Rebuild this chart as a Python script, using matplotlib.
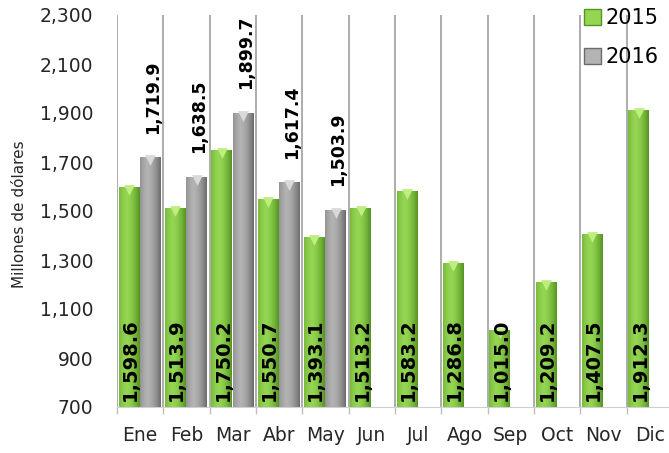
import matplotlib.pyplot as plt
import numpy as np
from matplotlib.patches import Patch

# Monthly values (millones de dolares)
months = ['Ene', 'Feb', 'Mar', 'Abr', 'May', 'Jun', 'Jul', 'Ago', 'Sep', 'Oct', 'Nov', 'Dic']
v2015 = [1598.6, 1513.9, 1750.2, 1550.7, 1393.1, 1513.2, 1583.2, 1286.8, 1015.0, 1209.2, 1407.5, 1912.3]
v2016 = [1719.9, 1638.5, 1899.7, 1617.4, 1503.9]
yticks = [700, 900, 1100, 1300, 1500, 1700, 1900, 2100, 2300]

plt.rcParams['font.family'] = ['DejaVu Sans']

fig = plt.figure(figsize=(6.69, 4.53), dpi=100)
ax = fig.add_axes([117 / 669, 1 - 407 / 453, 556 / 669, 392 / 453])

ymin, ymax = 700, 2300
w = 0.45
x = np.arange(len(months))
x15 = x - 0.24
x16 = np.arange(len(v2016)) + 0.22


def gradient_bars(xs, vals, c_light, c_dark):
    bars = ax.bar(xs, np.array(vals) - ymin, bottom=ymin, width=w, color=c_light, zorder=2)
    prof = np.abs(np.linspace(-1, 1, 64) + 0.25) ** 1.6
    prof = np.clip(prof / prof.max(), 0, 1)
    cmap_arr = np.array([np.array(c_light) * (1 - p) + np.array(c_dark) * p for p in prof])
    img = cmap_arr[np.newaxis, :, :]
    for b in bars:
        bx, by = b.get_x(), b.get_y()
        im = ax.imshow(img, extent=[bx, bx + b.get_width(), by, by + b.get_height()],
                       aspect='auto', zorder=2.5, interpolation='bilinear')
        im.set_clip_path(b)
    return bars


green_l = (0.58, 0.84, 0.32)
green_d = (0.33, 0.58, 0.13)
gray_l = (0.70, 0.70, 0.70)
gray_d = (0.42, 0.42, 0.42)

gradient_bars(x15, v2015, green_l, green_d)
gradient_bars(x16, v2016, gray_l, gray_d)

# bevel caps on top of the bars
ax.scatter(x15, np.array(v2015) - 12, marker='v', s=60, color=(0.75, 0.93, 0.50), zorder=3, linewidths=0)
ax.scatter(x16, np.array(v2016) - 12, marker='v', s=60, color=(0.85, 0.85, 0.85), zorder=3, linewidths=0)

# value labels
for xi, v in zip(x15, v2015):
    ax.annotate(f'{v:,.1f}', (xi, ymin), xytext=(1, 4), textcoords='offset points',
                rotation=90, ha='center', va='bottom', fontsize=14, fontweight='bold',
                color='black', zorder=4)
for xi, v in zip(x16, v2016):
    ax.annotate(f'{v:,.1f}', (xi, v), xytext=(2, 17), textcoords='offset points',
                rotation=90, ha='center', va='bottom', fontsize=12.5, fontweight='bold',
                color='black', zorder=4)

# vertical separators between months
for b in np.arange(-0.5, len(months), 1.0):
    ax.axvline(b, color='#a6a6a6', lw=1.3, zorder=1)

ax.set_xlim(-0.5, len(months) - 0.5)
ax.set_ylim(ymin, ymax)
ax.set_yticks(yticks)
ax.set_yticklabels([f'{t:,}' for t in yticks])
ax.set_xticks(x)
ax.set_xticklabels(months)
ax.set_xticks(np.arange(-0.5, len(months), 1.0), minor=True)
ax.tick_params(axis='y', length=0, pad=17, labelsize=13.5, labelcolor='#262626')
ax.tick_params(axis='x', which='major', length=0, pad=14, labelsize=13.5, labelcolor='#262626')
ax.tick_params(axis='x', which='minor', length=5, color='#bfbfbf', width=1)
for s in ['top', 'right', 'left']:
    ax.spines[s].set_visible(False)
ax.spines['bottom'].set_color('#d0d0d0')

fig.text(20 / 669, 1 - 214 / 453, 'Millones de dólares', rotation=90, ha='center', va='center',
         fontsize=11, color='#262626')

# legend
handles = [Patch(facecolor=green_l, edgecolor=green_d, label='2015'),
           Patch(facecolor=gray_l, edgecolor=gray_d, label='2016')]
fig.legend(handles=handles, loc='upper left', bbox_to_anchor=(576 / 669, 1 - 0 / 453),
           frameon=False, fontsize=15, handlelength=0.8, handleheight=0.8,
           handletextpad=0.2, labelspacing=0.9, borderaxespad=0)

fig.savefig('out.png', dpi=100)
plt.close()
